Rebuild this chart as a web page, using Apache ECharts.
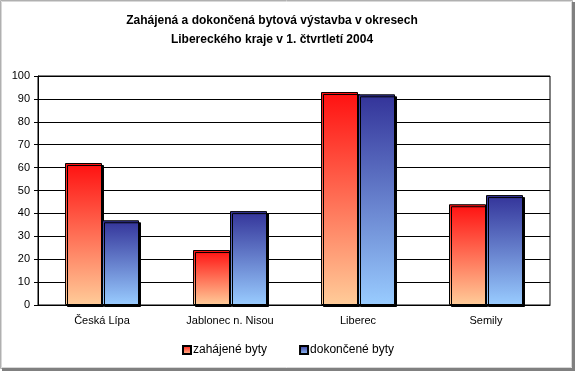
<!DOCTYPE html>
<html>
<head>
<meta charset="utf-8">
<script src="https://cdn.jsdelivr.net/npm/echarts@6/dist/echarts.min.js"></script>
<style>html,body{margin:0;padding:0;background:#fff}#c{width:575px;height:371px}</style>
</head>
<body>
<div id="c"></div>
<script>
var categories = ['Česká Lípa', 'Jablonec n. Nisou', 'Liberec', 'Semily'];
var seriesNames = ['zahájené byty', 'dokončené byty'];
var zahajene = [62, 24, 93, 44];
var dokoncene = [37, 41, 92, 48];
var yTicks = {min: 0, max: 100, interval: 10};

var FONT = "'Liberation Sans', Arial, sans-serif";
function grad(top, bottom) {
  return new echarts.graphic.LinearGradient(0, 0, 0, 1, [
    {offset: 0, color: top}, {offset: 1, color: bottom}
  ]);
}
var chart = echarts.init(document.getElementById('c'), null, {renderer: 'canvas'});
chart.setOption({
  animation: false,
  backgroundColor: '#fff',
  title: {
    text: 'Zahájená a dokončená bytová výstavba v okresech\nLibereckého kraje v 1. čtvrtletí 2004',
    left: 267, top: 6, textAlign: 'center',
    textStyle: {fontFamily: FONT, fontSize: 12, fontWeight: 'bold', color: '#000', lineHeight: 19}
  },
  legend: {
    left: 182, top: 344, itemWidth: 8, itemHeight: 8, itemGap: 32, padding: 0,
    icon: 'rect',
    textStyle: {fontFamily: FONT, fontSize: 12, color: '#000', padding: [0, 0, 0, -3]},
    data: seriesNames
  },
  grid: {left: 38, right: 25, top: 76, bottom: 66, show: true, borderColor: '#000', borderWidth: 1},
  xAxis: {
    type: 'category', data: categories,
    axisLine: {lineStyle: {color: '#000'}},
    axisTick: {length: 4, lineStyle: {color: '#000'}},
    axisLabel: {fontFamily: FONT, fontSize: 11, color: '#000', margin: 10}
  },
  yAxis: {
    type: 'value', min: yTicks.min, max: yTicks.max, interval: yTicks.interval,
    axisLine: {show: true, lineStyle: {color: '#000'}},
    axisTick: {show: true, length: 4, lineStyle: {color: '#000'}},
    axisLabel: {fontFamily: FONT, fontSize: 11, color: '#000', margin: 8},
    splitLine: {lineStyle: {color: '#000', width: 1}}
  },
  series: [
    {
      name: seriesNames[0], type: 'bar', data: zahajene, barWidth: 37, barGap: '0%',
      itemStyle: {color: grad('#ff1010', '#ffcc99'), borderColor: '#000', borderWidth: 1,
        shadowColor: '#000', shadowOffsetX: 2, shadowOffsetY: 2, shadowBlur: 0}
    },
    {
      name: seriesNames[1], type: 'bar', data: dokoncene, barWidth: 37, barGap: '0%',
      itemStyle: {color: grad('#333399', '#99ccff'), borderColor: '#000', borderWidth: 1,
        shadowColor: '#000', shadowOffsetX: 2, shadowOffsetY: 2, shadowBlur: 0}
    }
  ],
  graphic: [
    {type: 'rect', shape: {x: 0.5, y: 0.5, width: 572, height: 368}, style: {fill: null, stroke: '#b0b0b0', lineWidth: 1}},
    {type: 'rect', shape: {x: 1.5, y: 1.5, width: 570, height: 366}, style: {fill: null, stroke: '#d8d8d8', lineWidth: 1}},
    {type: 'rect', shape: {x: 572, y: 2, width: 3, height: 369}, style: {fill: '#808080'}},
    {type: 'rect', shape: {x: 2, y: 368, width: 573, height: 3}, style: {fill: '#808080'}}
  ]
});
</script>
</body>
</html>
